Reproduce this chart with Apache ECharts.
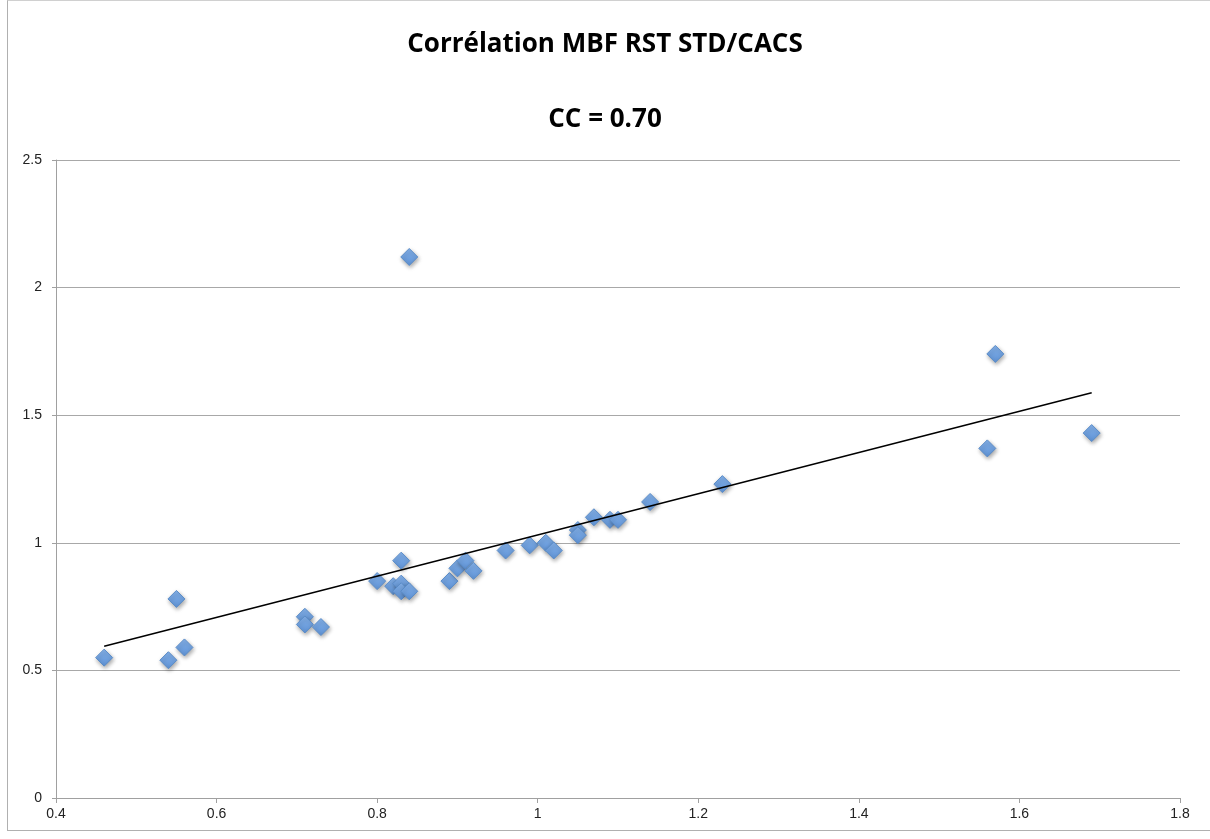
<!DOCTYPE html>
<html>
<head>
<meta charset="utf-8">
<script src="https://cdn.jsdelivr.net/npm/echarts@6/dist/echarts.min.js"></script>
<style>
    html, body { margin: 0; padding: 0; background: #fff; }
    #frame { position: absolute; left: 7px; top: 0px; width: 1210px; height: 831px; border-left: 1px solid #b0b0b0; border-top: 1px solid #d0d0d0; border-bottom: 1px solid #b0b0b0; box-sizing: border-box; }
    #main { position: absolute; left: 0; top: 0; width: 1210px; height: 839px; }
</style>
</head>
<body>
<div id="frame"></div>
<div id="main"></div>
<script>
// nuage de points MBF (x) / CACS (y)
var xVals = [0.46, 0.54, 0.55, 0.56, 0.71, 0.71, 0.73, 0.80, 0.82, 0.83, 0.83, 0.83, 0.84, 0.84,
             0.89, 0.90, 0.91, 0.92, 0.96, 0.99, 1.01, 1.02, 1.05, 1.05, 1.07, 1.09, 1.10, 1.14,
             1.23, 1.56, 1.57, 1.69]
var yVals = [0.55, 0.54, 0.78, 0.59, 0.71, 0.68, 0.67, 0.85, 0.83, 0.93, 0.84, 0.81, 0.81, 2.12,
             0.85, 0.90, 0.93, 0.89, 0.97, 0.99, 1.00, 0.97, 1.05, 1.03, 1.10, 1.09, 1.09, 1.16,
             1.23, 1.37, 1.74, 1.43]
// droite de tendance (extrémités)
var trendX = [0.46, 1.69]
var trendY = [0.595, 1.588]
var xTicks = [0.4, 0.6, 0.8, 1, 1.2, 1.4, 1.6, 1.8]
var yTicks = [0, 0.5, 1, 1.5, 2, 2.5]

var points = xVals.map((x, i) => [x, yVals[i]])
var trend = trendX.map((x, i) => [x, trendY[i]])

var chart = echarts.init(document.getElementById('main'))

chart.setOption({
    animation: false,
    title: [
        {
            text: 'Corrélation MBF RST STD/CACS',
            left: 'center',
            top: 27,
            textStyle: { fontFamily: 'Open Sans', fontWeight: 'bold', fontSize: 26, color: '#000' }
        },
        {
            text: 'CC = 0.70',
            left: 'center',
            top: 102,
            textStyle: { fontFamily: 'Open Sans', fontWeight: 'bold', fontSize: 26, color: '#000' }
        }
    ],
    grid: {
        left: 56,
        right: 30,
        top: 160,
        bottom: 41
    },
    xAxis: {
        type: 'value',
        min: xTicks[0],
        max: xTicks[xTicks.length - 1],
        interval: 0.2,
        axisLine: { show: true, onZero: false, lineStyle: { color: '#a0a0a0', width: 1 } },
        axisTick: { show: true, length: 5, lineStyle: { color: '#a0a0a0' } },
        splitLine: { show: false },
        axisLabel: {
            color: '#222', fontSize: 14, fontFamily: 'Liberation Sans', margin: 9,
            formatter: v => String(+v.toFixed(1))
        }
    },
    yAxis: {
        type: 'value',
        min: yTicks[0],
        max: yTicks[yTicks.length - 1],
        interval: 0.5,
        axisLine: { show: true, lineStyle: { color: '#a0a0a0', width: 1 } },
        axisTick: { show: true, length: 4, lineStyle: { color: '#a0a0a0' } },
        splitLine: { show: true, lineStyle: { color: '#a8a8a8', width: 1 } },
        axisLabel: {
            color: '#222', fontSize: 14, fontFamily: 'Liberation Sans', margin: 14,
            formatter: v => String(+v.toFixed(1))
        }
    },
    series: [
        {
            type: 'line',
            data: trend,
            symbol: 'none',
            silent: true,
            z: 3,
            lineStyle: { color: '#000', width: 1.5 }
        },
        {
            type: 'scatter',
            data: points,
            symbol: 'diamond',
            symbolSize: [17, 17],
            z: 2,
            itemStyle: {
                color: new echarts.graphic.LinearGradient(0, 0, 0, 1, [
                    { offset: 0, color: '#85b2ea' },
                    { offset: 1, color: '#5f93d6' }
                ]),
                borderColor: '#5a8cc8',
                borderWidth: 1,
                opacity: 1,
                shadowBlur: 4,
                shadowOffsetX: 1,
                shadowOffsetY: 2,
                shadowColor: 'rgba(0,0,0,0.35)'
            }
        }
    ]
})
</script>
</body>
</html>
